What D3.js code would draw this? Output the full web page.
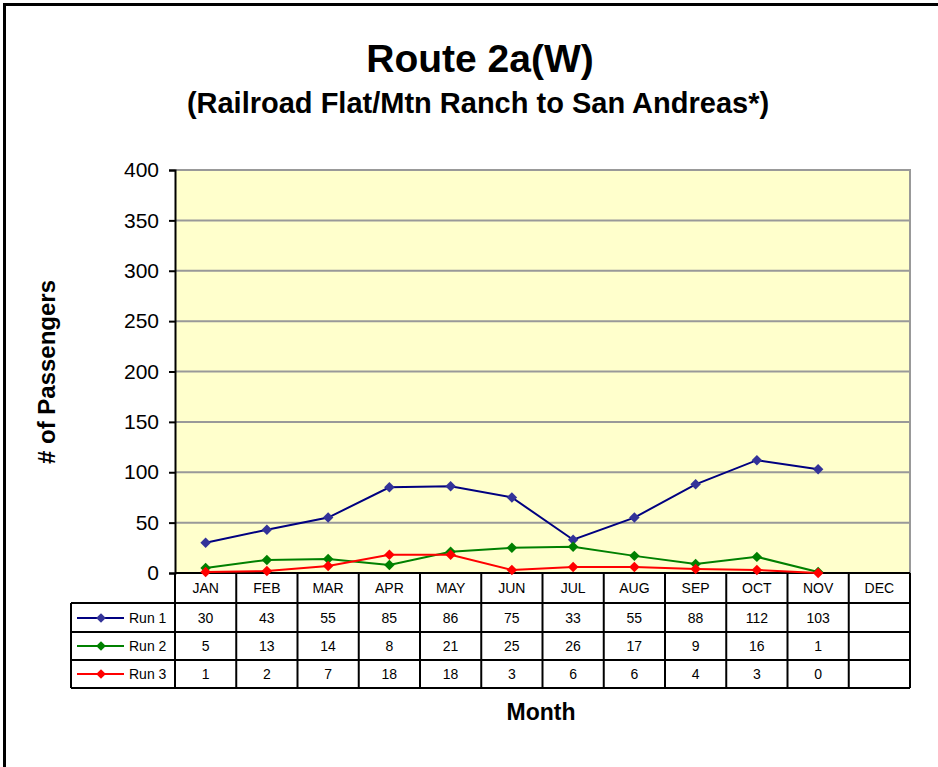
<!DOCTYPE html>
<html>
<head>
<meta charset="utf-8">
<title>Route 2a(W)</title>
<style>
  body { margin: 0; background: #fff; }
  text { font-family: Arial, "Liberation Sans", sans-serif; }
</style>
</head>
<body>
<script src="https://d3js.org/d3.v7.min.js"></script>
<script>
var months = ["JAN","FEB","MAR","APR","MAY","JUN","JUL","AUG","SEP","OCT","NOV","DEC"];
var run1 = [30,43,55,85,86,75,33,55,88,112,103];
var run2 = [5,13,14,8,21,25,26,17,9,16,1];
var run3 = [1,2,7,18,18,3,6,6,4,3,0];
var yTicks = [0,50,100,150,200,250,300,350,400];

var series = [
  {name: "Run 1", values: run1, line: "#000080", marker: "#333399"},
  {name: "Run 2", values: run2, line: "#008000", marker: "#008000"},
  {name: "Run 3", values: run3, line: "#FF0000", marker: "#FF0000"}
];

var W = 938, H = 767;
var plotLeft = 175, plotRight = 910, plotTop = 170, plotBottom = 573;
var tableLeft = 71, rowH = [603, 632, 660, 688];

var svg = d3.select("body").append("svg")
  .attr("width", W).attr("height", H);

svg.append("rect").attr("width", W).attr("height", H).attr("fill", "#fff");

// outer frame (runs off right/bottom edge)
svg.append("rect")
  .attr("x", 4.5).attr("y", 4.5)
  .attr("width", W + 20).attr("height", H + 20)
  .attr("fill", "none").attr("stroke", "#000").attr("stroke-width", 3);

var x = d3.scaleBand().domain(months).range([plotLeft, plotRight]);
var y = d3.scaleLinear().domain([0, 400]).range([plotBottom, plotTop]);

// plot area
svg.append("rect")
  .attr("x", plotLeft).attr("y", plotTop)
  .attr("width", plotRight - plotLeft).attr("height", plotBottom - plotTop)
  .attr("fill", "#FFFFCC");

svg.append("g").selectAll("line")
  .data(yTicks.filter(function(d){ return d > 0; }))
  .enter().append("line")
  .attr("x1", plotLeft).attr("x2", plotRight)
  .attr("y1", function(d){ return y(d); })
  .attr("y2", function(d){ return y(d); })
  .attr("stroke", "#999").attr("stroke-width", 2);

svg.append("line")
  .attr("x1", plotRight).attr("x2", plotRight).attr("y1", plotTop - 1).attr("y2", plotBottom)
  .attr("stroke", "#999").attr("stroke-width", 2);

// y axis
var yAxis = svg.append("g")
  .attr("transform", "translate(" + plotLeft + ",0)")
  .call(d3.axisLeft(y).tickValues(yTicks).tickSize(6).tickPadding(10));
yAxis.select(".domain").attr("stroke", "#000").attr("stroke-width", 2);
yAxis.selectAll(".tick line").attr("stroke", "#000").attr("stroke-width", 2);
yAxis.selectAll(".tick text")
  .attr("font-size", 21).attr("font-family", "Arial, 'Liberation Sans', sans-serif")
  .attr("fill", "#000");

// data table
var tbl = svg.append("g").attr("stroke", "#000").attr("stroke-width", 2);
tbl.append("line").attr("x1", plotLeft).attr("x2", plotRight)
  .attr("y1", plotBottom).attr("y2", plotBottom);
rowH.forEach(function(r){
  tbl.append("line").attr("x1", tableLeft).attr("x2", plotRight)
    .attr("y1", r).attr("y2", r);
});
tbl.append("line").attr("x1", tableLeft).attr("x2", tableLeft)
  .attr("y1", rowH[0]).attr("y2", rowH[3]);
tbl.selectAll(".vl")
  .data(months.concat(["end"]))
  .enter().append("line")
  .attr("x1", function(d, i){ return plotLeft + i * x.bandwidth(); })
  .attr("x2", function(d, i){ return plotLeft + i * x.bandwidth(); })
  .attr("y1", plotBottom).attr("y2", rowH[3]);

svg.append("g").selectAll("text")
  .data(months).enter().append("text")
  .attr("x", function(d){ return x(d) + x.bandwidth() / 2; })
  .attr("y", 593)
  .attr("text-anchor", "middle").attr("font-size", 14)
  .text(function(d){ return d; });

var rowMid = [618, 646, 674];
series.forEach(function(s, k){
  svg.append("g").selectAll("text")
    .data(s.values).enter().append("text")
    .attr("x", function(d, i){ return x(months[i]) + x.bandwidth() / 2; })
    .attr("y", rowMid[k] + 5)
    .attr("text-anchor", "middle").attr("font-size", 14)
    .text(function(d){ return d; });

  var key = svg.append("g");
  key.append("line")
    .attr("x1", 77).attr("x2", 124)
    .attr("y1", rowMid[k]).attr("y2", rowMid[k])
    .attr("stroke", s.line).attr("stroke-width", 2);
  key.append("path")
    .attr("d", d3.symbol(d3.symbolDiamond2, 60))
    .attr("transform", "translate(101," + rowMid[k] + ")")
    .attr("fill", s.marker);
  key.append("text")
    .attr("x", 129).attr("y", rowMid[k] + 5)
    .attr("font-size", 14).text(s.name);
});

// lines + markers
var line = d3.line()
  .x(function(d, i){ return x(months[i]) + x.bandwidth() / 2; })
  .y(function(d){ return y(d); });

series.forEach(function(s){
  svg.append("path")
    .datum(s.values)
    .attr("d", line)
    .attr("fill", "none")
    .attr("stroke", s.line)
    .attr("stroke-width", 2);
  svg.append("g").selectAll("path")
    .data(s.values).enter().append("path")
    .attr("d", d3.symbol(d3.symbolDiamond2, 70))
    .attr("transform", function(d, i){
      return "translate(" + (x(months[i]) + x.bandwidth() / 2) + "," + y(d) + ")";
    })
    .attr("fill", s.marker);
});

// titles
svg.append("text")
  .attr("x", 480).attr("y", 72)
  .attr("text-anchor", "middle").attr("font-size", 39).attr("font-weight", "bold")
  .text("Route 2a(W)");
svg.append("text")
  .attr("x", 478).attr("y", 113)
  .attr("text-anchor", "middle").attr("font-size", 29).attr("font-weight", "bold")
  .text("(Railroad Flat/Mtn Ranch to San Andreas*)");
svg.append("text")
  .attr("transform", "translate(55,372) rotate(-90)")
  .attr("text-anchor", "middle").attr("font-size", 24).attr("font-weight", "bold")
  .text("# of Passengers");
svg.append("text")
  .attr("x", 541).attr("y", 720)
  .attr("text-anchor", "middle").attr("font-size", 23).attr("font-weight", "bold")
  .text("Month");
</script>
</body>
</html>
